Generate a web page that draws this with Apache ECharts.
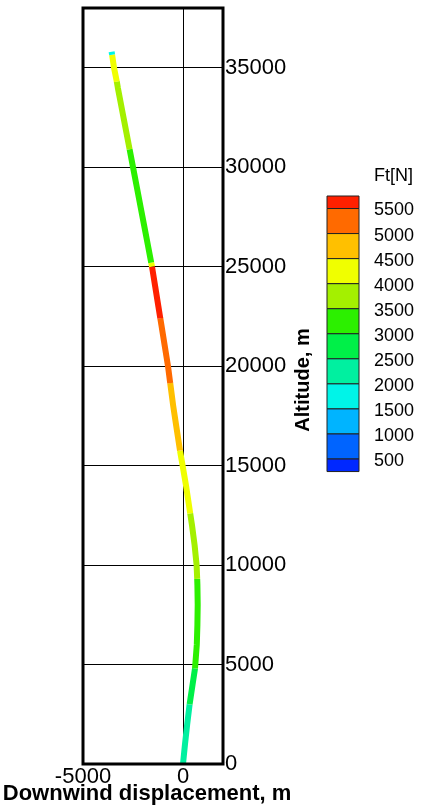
<!DOCTYPE html>
<html>
<head>
<meta charset="utf-8">
<script src="https://cdn.jsdelivr.net/npm/echarts@6/dist/echarts.min.js"></script>
<style>
    html, body { margin: 0; padding: 0; background: #fff; }
    #chart { width: 421px; height: 808px; }
</style>
</head>
<body>
<div id="chart"></div>
<script>
    // tether shape: altitude (m), downwind displacement (m), tension Ft (N) on the segment above each sample
    var altitude = [0, 1000, 2000, 3000, 4000, 4800, 6000, 7000, 8000, 9000, 9300, 10000, 11000, 12000, 12600,
        13000, 14000, 15000, 15750, 17000, 18000, 19000, 19150, 20000, 21000, 22000, 22400, 23000, 24000, 25000,
        25200, 26000, 27000, 28000, 29000, 30000, 30900, 32000, 33000, 34000, 34300, 35000, 35650, 35800];
    var displacement = [0, 100, 210, 330, 480, 600, 690, 720, 735, 720, 710, 680, 580, 450, 360,
        300, 150, -20, -150, -340, -490, -620, -640, -750, -910, -1070, -1135, -1230, -1390, -1550,
        -1590, -1740, -1930, -2120, -2310, -2500, -2670, -2880, -3070, -3260, -3310, -3450, -3545, -3570];
    var tension = [2200, 2200, 2200, 2700, 2700, 3200, 3200, 3200, 3200, 3200, 3700, 3700, 3700, 3700, 4200,
        4200, 4200, 4200, 4700, 4700, 4700, 4700, 5200, 5200, 5200, 5200, 5700, 5700, 5700, 4200,
        3200, 3200, 3200, 3200, 3200, 3200, 3700, 3700, 3700, 3700, 4200, 4200, 1700, 1700];

    // colour legend Ft[N]
    var ftLevels = [500, 1000, 1500, 2000, 2500, 3000, 3500, 4000, 4500, 5000, 5500];
    var ftColors = ['#0028ff', '#0064ff', '#00b4ff', '#00f4e8', '#00f0a0', '#00f048',
        '#2cf000', '#a4f000', '#f0ff00', '#ffc000', '#ff6a00', '#ff2000'];

    var xTickStep = 5000;
    var yTickStep = 5000;

    function ftColor(v) {
        var k = 0;
        while (k < ftLevels.length && v >= ftLevels[k]) k++;
        return ftColors[k];
    }

    // split the path into runs of equal colour
    var runs = [];
    for (var i = 0; i < altitude.length - 1; i++) {
        var c = ftColor(tension[i]);
        var last = runs[runs.length - 1];
        if (last && last.color === c) {
            last.data.push([displacement[i + 1], altitude[i + 1]]);
        } else {
            runs.push({
                color: c,
                data: [[displacement[i], altitude[i]], [displacement[i + 1], altitude[i + 1]]]
            });
        }
    }

    var series = runs.map(function (r) {
        return {
            type: 'line',
            data: r.data,
            showSymbol: false,
            silent: true,
            lineStyle: { color: r.color, width: 6, cap: 'butt', join: 'round' },
            z: 5
        };
    });

    // legend boxes (top and bottom ones are half height)
    var legTop = 196, legStep = 25.05, legLeft = 327, legWidth = 32;
    var graphics = [];
    var yCur = legTop;
    for (var k = ftColors.length - 1; k >= 0; k--) {
        var h = (k === 0 || k === ftColors.length - 1) ? legStep / 2 : legStep;
        graphics.push({
            type: 'rect',
            shape: { x: legLeft, y: yCur, width: legWidth, height: h },
            style: { fill: ftColors[k], stroke: '#222', lineWidth: 1 }
        });
        yCur += h;
    }
    ftLevels.forEach(function (lv, j) {
        graphics.push({
            type: 'text',
            x: 374,
            y: legTop + legStep / 2 + (ftLevels.length - 1 - j) * legStep + 2,
            style: {
                text: String(lv), fill: '#000', font: '18px "Liberation Sans", Arial, sans-serif',
                textAlign: 'left', textVerticalAlign: 'middle'
            }
        });
    });
    graphics.push({
        type: 'text', x: 374, y: 176,
        style: {
            text: 'Ft[N]', fill: '#000', font: '18px "Liberation Sans", Arial, sans-serif',
            textAlign: 'left', textVerticalAlign: 'middle'
        }
    });

    var myChart = echarts.init(document.getElementById('chart'));
    var option = {
        backgroundColor: '#fff',
        animation: false,
        grid: {
            left: 83, right: 198, top: 8, bottom: 44,
            outerBoundsMode: 'none',
            containLabel: false,
            show: true, borderColor: '#000', borderWidth: 3, z: 10
        },
        xAxis: {
            type: 'value',
            min: -5000,
            max: 2000,
            interval: xTickStep,
            axisLine: { show: false },
            axisTick: { show: false },
            splitLine: { show: true, lineStyle: { color: '#000', width: 1 } },
            axisLabel: {
                color: '#000', fontSize: 22, fontFamily: '"Liberation Sans", Arial, sans-serif', margin: 2,
                formatter: function (v) { return v % xTickStep === 0 ? String(v) : ''; }
            },
            name: 'Downwind displacement, m',
            nameLocation: 'middle',
            nameGap: 19,
            nameMoveOverlap: false,
            nameTextStyle: {
                color: '#000', fontSize: 22, fontWeight: 'bold',
                fontFamily: '"Liberation Sans", Arial, sans-serif', padding: [0, 12, 0, 0]
            }
        },
        yAxis: {
            type: 'value',
            position: 'right',
            min: 0,
            max: 38000,
            interval: yTickStep,
            axisLine: { show: false },
            axisTick: { show: false },
            splitLine: { show: true, lineStyle: { color: '#000', width: 1 } },
            axisLabel: {
                color: '#000', fontSize: 22, fontFamily: '"Liberation Sans", Arial, sans-serif', margin: 2,
                formatter: function (v) { return v % yTickStep === 0 ? String(v) : ''; }
            },
            name: 'Altitude, m',
            nameLocation: 'middle',
            nameRotate: 90,
            nameGap: 70,
            nameTextStyle: {
                color: '#000', fontSize: 20, fontWeight: 'bold',
                fontFamily: '"Liberation Sans", Arial, sans-serif', padding: [0, 0, 0, 12]
            }
        },
        graphic: graphics,
        series: series
    };
    myChart.setOption(option);
</script>
</body>
</html>
